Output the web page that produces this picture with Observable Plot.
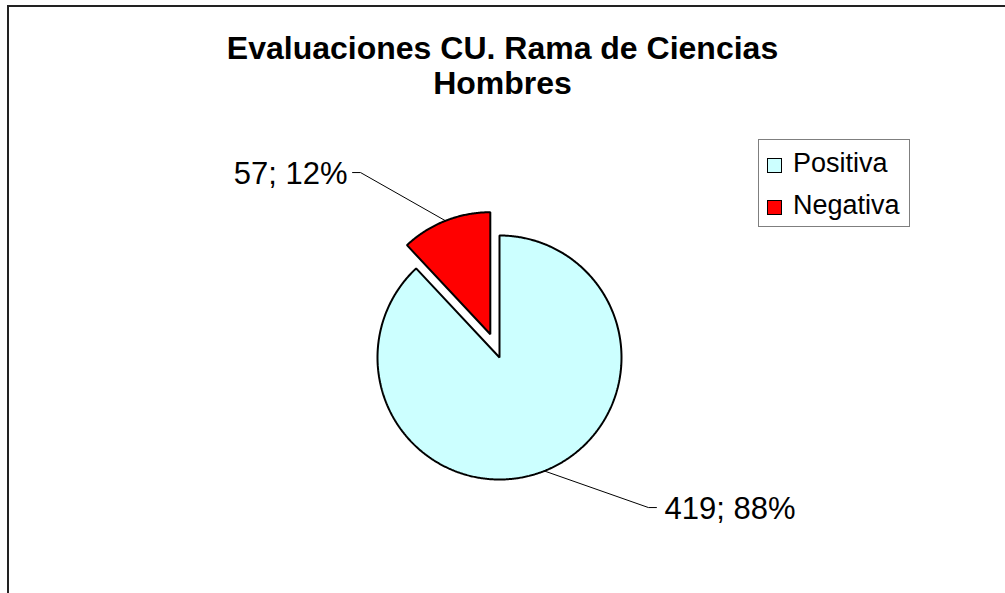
<!DOCTYPE html>
<html>
<head>
<meta charset="utf-8">
<script src="https://cdn.jsdelivr.net/npm/d3@7"></script>
<script src="https://cdn.jsdelivr.net/npm/@observablehq/plot@0.6"></script>
<style>
  html, body { margin: 0; padding: 0; background: #fff; }
  body { font-family: "Liberation Sans", Arial, sans-serif; }
  #wrap { position: relative; width: 1005px; height: 593px; overflow: hidden; }
  #chart { position: absolute; left: 0; top: 0; }
  #frame { position: absolute; left: 7px; top: 5px; width: 1100px; height: 700px;
           border-left: 2px solid #222; border-top: 2px solid #222; }
  #title { position: absolute; left: 0; top: 31px; width: 1005px; text-align: center;
           font-weight: bold; font-size: 32px; line-height: 35px; color: #000; }
  #legend { position: absolute; left: 758px; top: 139px; width: 152px; height: 88px;
            border: 1.5px solid #7f7f7f; box-sizing: border-box; }
  .item { position: absolute; left: 8px; font-size: 27px; line-height: 30px; white-space: nowrap; }
  .sw { display: inline-block; width: 13px; height: 13px; border: 1px solid #000;
        margin-right: 11px; vertical-align: -1px; }
</style>
</head>
<body>
<div id="wrap">
  <div id="frame"></div>
  <div id="chart"></div>
  <div id="title"></div>
  <div id="legend"></div>
</div>
<script>
// ---- data ----
const titleLines = ["Evaluaciones CU. Rama de Ciencias", "Hombres"];
const categories = ["Positiva", "Negativa"];
const counts = [419, 57];
const colors = ["#CCFFFF", "#FF0000"];
const explodeFrac = [0, 0.205];

// ---- layout (pixels / radius units) ----
const W = 1005, H = 593;
const CX = 499, CY = 357, R = 122;
// label elbow positions in radius units relative to pie centre (y up)
const labelElbow = { Positiva: [1.221, -1.23], Negativa: [-1.139, 1.516] };
const tail = 8 / R;

const total = d3.sum(counts);
let acc = 0;
const pieRows = [];
const leaderRows = [];
const labelRows = [];
categories.forEach((cat, i) => {
  const a0 = acc / total * 2 * Math.PI;
  acc += counts[i];
  const a1 = acc / total * 2 * Math.PI;
  const mid = (a0 + a1) / 2;
  const ox = explodeFrac[i] * Math.sin(mid);
  const oy = explodeFrac[i] * Math.cos(mid);
  pieRows.push({ key: cat, x: ox, y: oy });
  const steps = Math.max(4, Math.ceil((a1 - a0) / (Math.PI / 360)));
  for (let k = 0; k <= steps; k++) {
    const a = a0 + (a1 - a0) * k / steps;
    pieRows.push({ key: cat, x: ox + Math.sin(a), y: oy + Math.cos(a) });
  }
  const ex = ox + Math.sin(mid), ey = oy + Math.cos(mid);
  const [lx, ly] = labelElbow[cat];
  const side = lx >= 0 ? 1 : -1;
  leaderRows.push({ key: cat, x: ex, y: ey });
  leaderRows.push({ key: cat, x: lx, y: ly });
  leaderRows.push({ key: cat, x: lx + side * tail, y: ly });
  const pct = Math.round(counts[i] / total * 100);
  labelRows.push({ key: cat, x: lx + side * tail, y: ly, side,
                   text: `${counts[i]}; ${pct}%` });
});

const chart = Plot.plot({
  width: W, height: H,
  margin: 0,
  x: { domain: [-CX / R, (W - CX) / R], axis: null },
  y: { domain: [-(H - CY) / R, CY / R], axis: null },
  color: { domain: categories, range: colors },
  style: { fontFamily: '"Liberation Sans", Arial, sans-serif', background: "transparent" },
  marks: [
    Plot.line(pieRows, { x: "x", y: "y", z: "key", fill: "key", stroke: "#000",
                         strokeWidth: 2, curve: "linear-closed", strokeLinejoin: "miter" }),
    Plot.line(leaderRows, { x: "x", y: "y", z: "key", stroke: "#000", strokeWidth: 1 }),
    Plot.text(labelRows.filter(d => d.side < 0), { x: "x", y: "y", text: "text",
      textAnchor: "end", dx: -5, dy: 2, fontSize: 31, fill: "#000", lineAnchor: "middle" }),
    Plot.text(labelRows.filter(d => d.side > 0), { x: "x", y: "y", text: "text",
      textAnchor: "start", dx: 8, dy: 2, fontSize: 31, fill: "#000", lineAnchor: "middle" })
  ]
});
document.getElementById("chart").appendChild(chart);

document.getElementById("title").innerHTML = titleLines.join("<br>");

const legend = document.getElementById("legend");
const legendTops = [8, 50];
categories.forEach((cat, i) => {
  const it = document.createElement("div");
  it.className = "item";
  it.style.top = legendTops[i] + "px";
  it.innerHTML = `<span class="sw" style="background:${colors[i]}"></span>${cat}`;
  legend.appendChild(it);
});
</script>
</body>
</html>
